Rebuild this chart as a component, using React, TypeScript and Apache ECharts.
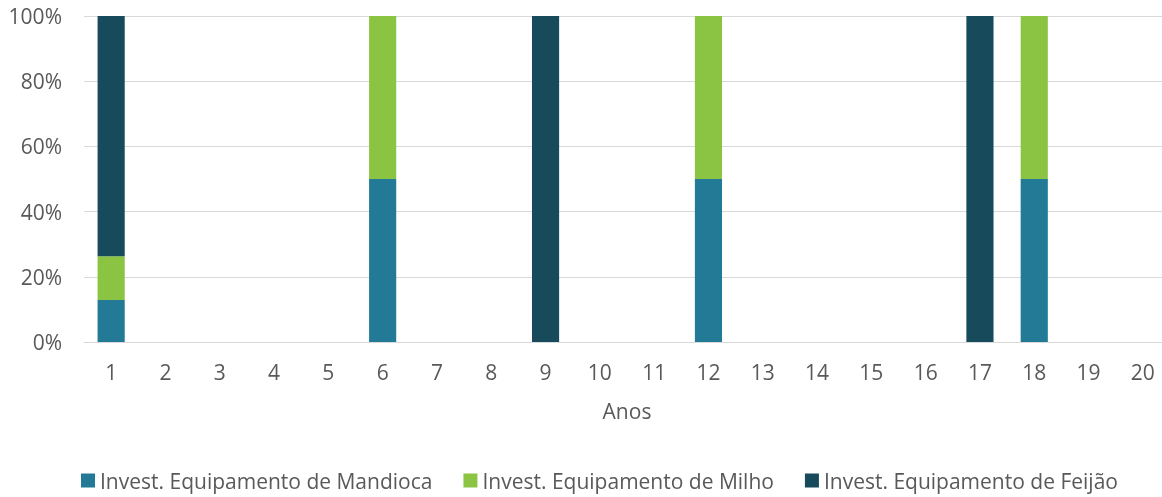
import React, { useEffect, useRef } from "react";
import * as echarts from "echarts";

const categories = ["1","2","3","4","5","6","7","8","9","10","11","12","13","14","15","16","17","18","19","20"];
const mandioca = [12.9, 0, 0, 0, 0, 50, 0, 0, 0, 0, 0, 50, 0, 0, 0, 0, 0, 50, 0, 0];
const milho = [13.4, 0, 0, 0, 0, 50, 0, 0, 0, 0, 0, 50, 0, 0, 0, 0, 0, 50, 0, 0];
const feijao = [73.7, 0, 0, 0, 0, 0, 0, 0, 100, 0, 0, 0, 0, 0, 0, 0, 100, 0, 0, 0];
const seriesNames = ["Invest. Equipamento de Mandioca", "Invest. Equipamento de Milho", "Invest. Equipamento de Feijão"];
const colors = ["#237A96", "#8BC443", "#174A5B"];

export default function App() {
  const ref = useRef<HTMLDivElement>(null);
  useEffect(() => {
    if (!ref.current) return;
    const chart = echarts.init(ref.current, null, { renderer: "svg" });
    const font = "Open Sans";
    const data = [mandioca, milho, feijao];
    chart.setOption({
      animation: false,
      textStyle: { fontFamily: font },
      grid: { left: 84, right: 0, top: 16, bottom: 155, containLabel: false },
      legend: {
        bottom: 1,
        left: 76,
        itemWidth: 14,
        itemHeight: 14,
        itemGap: 31,
        icon: "rect",
        textStyle: { color: "#595959", fontSize: 21, fontFamily: font },
        data: seriesNames,
      },
      xAxis: {
        type: "category",
        data: categories,
        name: "Anos",
        nameLocation: "middle",
        nameGap: 58,
        nameTextStyle: { color: "#595959", fontSize: 21, fontFamily: font },
        axisLine: { lineStyle: { color: "#d9d9d9", width: 1 } },
        axisTick: { show: false },
        axisLabel: { color: "#595959", fontSize: 21, margin: 19, fontFamily: font },
      },
      yAxis: {
        type: "value",
        min: 0,
        max: 100,
        interval: 20,
        axisLine: { show: false },
        axisTick: { show: false },
        splitLine: { lineStyle: { color: "#d9d9d9", width: 1 } },
        axisLabel: { color: "#595959", fontSize: 21, margin: 22, fontFamily: font, formatter: (v: number) => v + "%" },
      },
      series: seriesNames.map((name, i) => ({
        name,
        type: "bar",
        stack: "total",
        barWidth: "50%",
        itemStyle: { color: colors[i] },
        data: data[i],
      })),
    });
    return () => chart.dispose();
  }, []);
  return <div ref={ref} style={{ position: "fixed", left: 0, top: 0, width: 1170, height: 497 }} />;
}
